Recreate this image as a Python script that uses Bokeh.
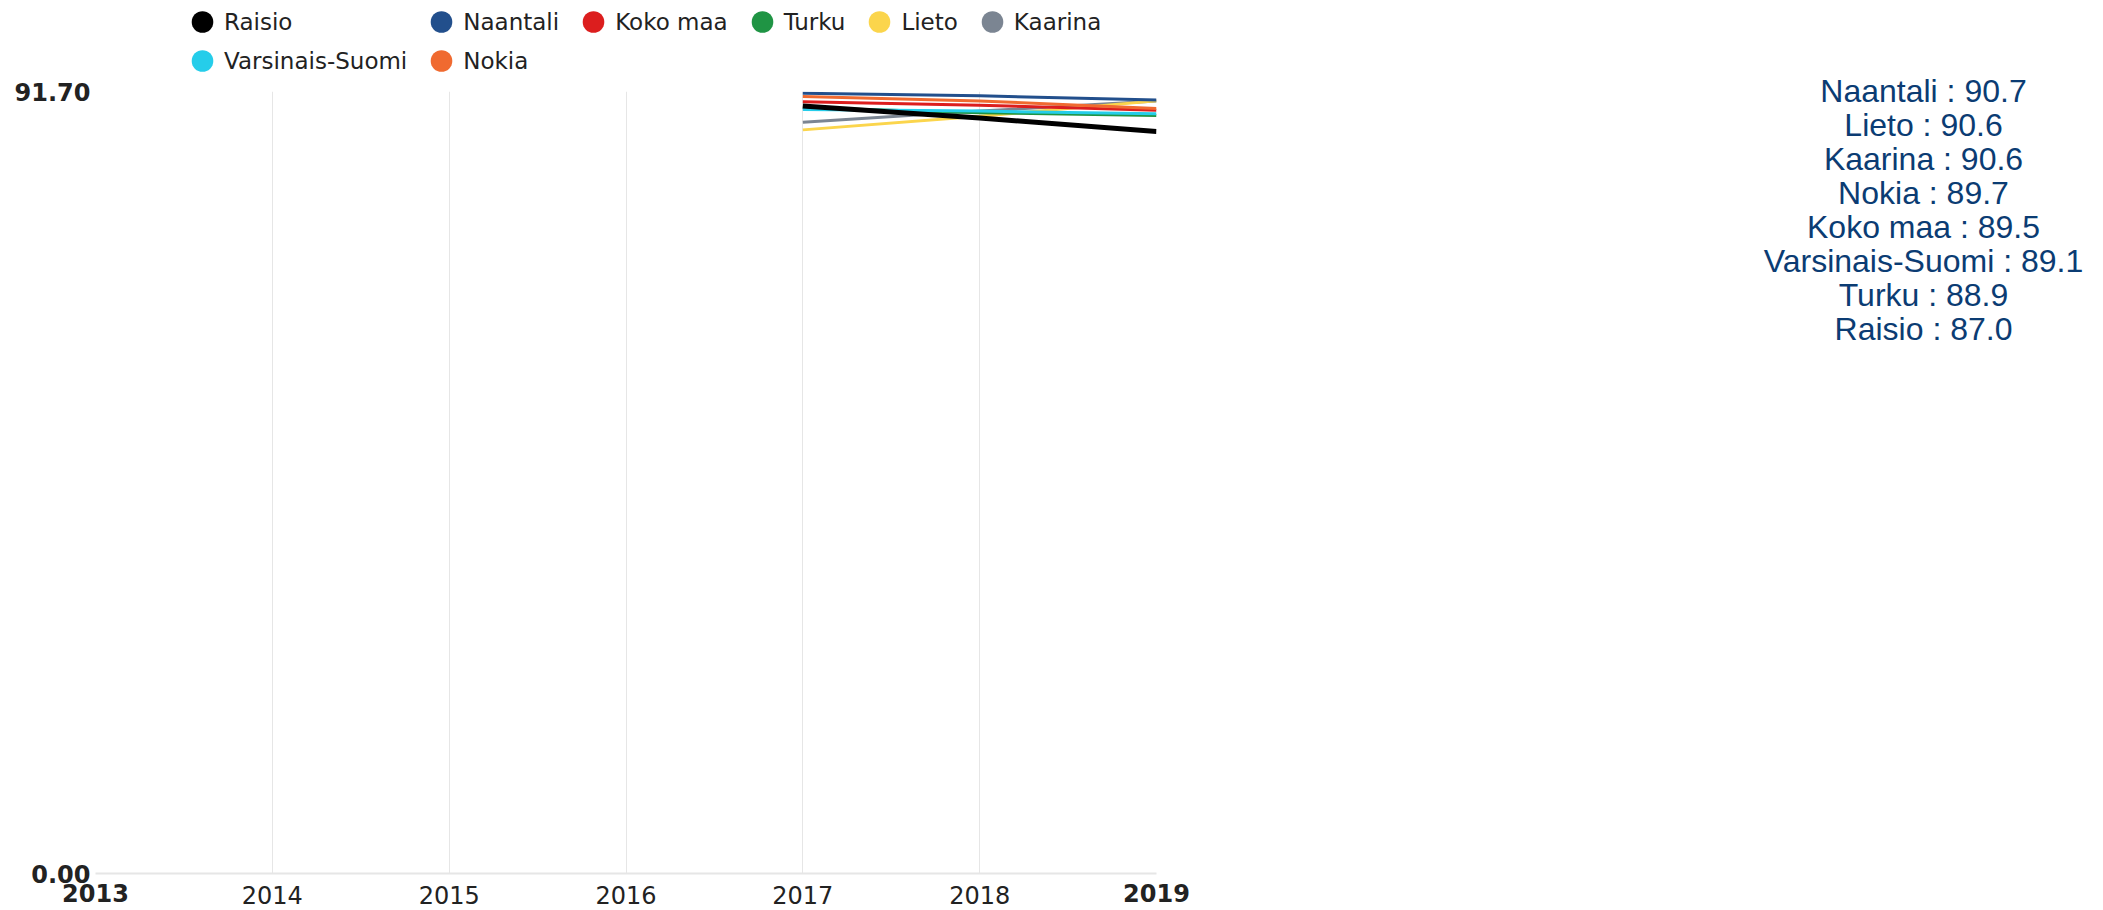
import math
from bokeh.plotting import figure
from bokeh.layouts import row, column
from bokeh.models import (Range1d, FixedTicker, Legend, LegendItem, LinearAxis,
                          NumeralTickFormatter)
from bokeh.core.properties import value
from bokeh.embed import file_html
from bokeh.resources import INLINE

# ---- data ----
years_axis = [2013, 2014, 2015, 2016, 2017, 2018, 2019]
years = [2017, 2018, 2019]
series_names = ["Raisio", "Naantali", "Koko maa", "Turku", "Lieto", "Kaarina",
                "Varsinais-Suomi", "Nokia"]
raisio = [90.0, 88.6, 87.0]
naantali = [91.5, 91.2, 90.7]
koko_maa = [90.5, 90.1, 89.5]
turku = [89.8, 89.2, 88.9]
lieto = [87.2, 88.8, 90.6]
kaarina = [88.1, 89.4, 90.6]
varsinais_suomi = [89.6, 89.4, 89.1]
nokia = [91.1, 90.6, 89.7]
colors = ["#000000", "#224f8c", "#dc1e1e", "#1f9444", "#fbd54c", "#7b8592",
          "#25cdea", "#f06a30"]
y_max = 91.70

values = [raisio, naantali, koko_maa, turku, lieto, kaarina, varsinais_suomi, nokia]

FONT = "DejaVu Sans"

# ---- legend strip ----
L = figure(width=1208, height=76, output_backend="svg", toolbar_location=None,
           x_axis_type=None, y_axis_type=None,
           x_range=Range1d(0, 1), y_range=Range1d(0, 1),
           min_border_left=95, min_border_right=52, min_border_top=0,
           min_border_bottom=0)
L.outline_line_color = None
L.grid.visible = False
items = []
for i, name in enumerate(series_names):
    r = L.ellipse(x=[math.nan], y=[math.nan], width=1, height=1,
                  width_units="screen", height_units="screen",
                  fill_color=colors[i], line_color=None)
    items.append(LegendItem(label=name, renderers=[r]))
legend = Legend(items=items, orientation="horizontal", ncols=6, nrows="auto",
                location=(85, 2),
                glyph_width=44, glyph_height=27, label_standoff=0, spacing=12,
                padding=0, margin=0, border_line_color=None,
                background_fill_alpha=0, label_text_font=FONT,
                label_text_font_size="23px", label_text_color="#222222")
L.add_layout(legend, "center")

# ---- main chart ----
p = figure(width=1208, height=832, output_backend="svg", toolbar_location=None,
           x_range=Range1d(years_axis[0], years_axis[-1]), y_range=Range1d(0, y_max),
           min_border_left=95, min_border_top=15, min_border_bottom=35,
           min_border_right=52)
p.outline_line_color = None

p.xgrid.ticker = FixedTicker(ticks=years_axis[1:-1])
p.xgrid.grid_line_color = "#e6e6e6"
p.xgrid.grid_line_width = 1
p.ygrid.grid_line_color = None

xa = p.xaxis[0]
xa.ticker = FixedTicker(ticks=years_axis)
xa.major_label_overrides = {years_axis[0]: "", years_axis[-1]: ""}
xa.major_tick_line_color = None
xa.minor_tick_line_color = None
xa.axis_line_color = "#e6e6e6"
xa.axis_line_width = 2
xa.major_label_standoff = 6
xa.major_label_text_font = FONT
xa.major_label_text_font_size = "24px"
xa.major_label_text_color = "#222222"

# bold end-year labels, overlapping the first axis' label row
xb = LinearAxis(ticker=FixedTicker(ticks=[years_axis[0], years_axis[-1]]))
xb.axis_line_color = None
xb.major_tick_line_color = None
xb.minor_tick_line_color = None
xb.major_label_standoff = -29
xb.major_label_text_font = FONT
xb.major_label_text_font_size = "24px"
xb.major_label_text_font_style = "bold"
xb.major_label_text_color = "#222222"
p.add_layout(xb, "below")

ya = p.yaxis[0]
ya.ticker = FixedTicker(ticks=[0, y_max])
ya.formatter = NumeralTickFormatter(format="0.00")
ya.major_tick_line_color = None
ya.minor_tick_line_color = None
ya.major_tick_out = 0
ya.major_tick_in = 0
ya.axis_line_color = None
ya.major_label_standoff = 5
ya.major_label_text_font = FONT
ya.major_label_text_font_size = "24px"
ya.major_label_text_font_style = "bold"
ya.major_label_text_color = "#222222"

order = [5, 4, 3, 6, 2, 7, 1, 0]
for i in order:
    p.line(years, values[i], line_color=colors[i], line_width=5 if i == 0 else 3)

# ---- right-side text ----
last_vals = [v[-1] for v in values]
ranked = sorted(range(len(series_names)), key=lambda k: -last_vals[k])
texts = ["%s : %.1f" % (series_names[k], last_vals[k]) for k in ranked]

q = figure(width=892, height=908, output_backend="svg", toolbar_location=None,
           x_axis_type=None, y_axis_type=None,
           x_range=Range1d(1208, 2100), y_range=Range1d(908, 0),
           min_border_left=0, min_border_right=0, min_border_top=0,
           min_border_bottom=0)
q.grid.visible = False
q.outline_line_color = None
q.text(x=[1923] * len(texts), y=[90 + 34 * j for j in range(len(texts))], text=texts,
       text_align="center", text_baseline="middle",
       text_font=value("Liberation Sans"), text_font_size="32px",
       text_color="#0b3c73")

layout = row(column(L, p), q)
open("out.html", "w").write(file_html(layout, INLINE))
